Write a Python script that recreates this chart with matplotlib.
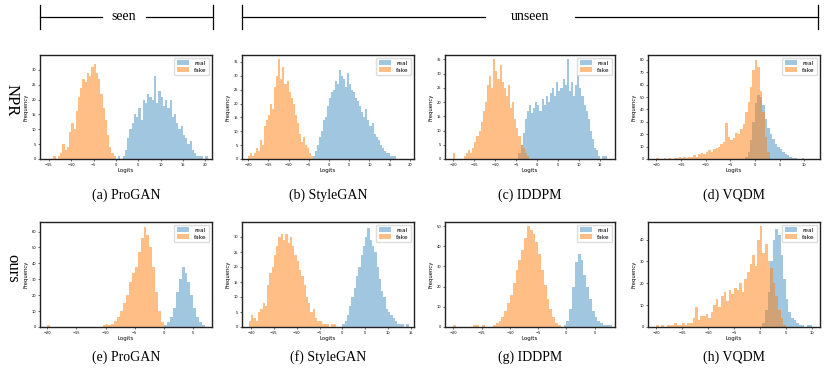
import numpy as np
import matplotlib.pyplot as plt
from matplotlib.lines import Line2D

# histogram counts, bin width 0.5 (first value = left edge)
BW = 0.5

real_a_lo, real_a = 0.5, [1, 0, 1, 3, 7, 10, 12, 15, 14, 17, 13, 20, 19, 22, 21, 20, 28, 19, 23, 21,
                          18, 20, 17, 20, 14, 15, 12, 10, 11, 8, 7, 5, 6, 3, 2, 1, 1, 1, 0, 1]
fake_a_lo, fake_a = -14.0, [1, 0, 1, 2, 5, 3, 4, 9, 12, 10, 16, 21, 24, 27, 26, 29, 28, 31, 32, 29,
                            27, 22, 17, 13, 8, 4, 2, 1]

real_b_lo, real_b = -4.0, [1, 3, 5, 8, 10, 14, 15, 19, 22, 24, 25, 28, 27, 32, 30, 29, 26, 31, 27, 25,
                           24, 22, 21, 19, 17, 15, 18, 14, 12, 13, 9, 8, 7, 5, 4, 3, 2, 2, 1, 1, 1]
fake_b_lo, fake_b = -20.0, [1, 2, 1, 2, 4, 3, 7, 5, 12, 14, 16, 20, 18, 26, 30, 36, 29, 33, 27, 28,
                            24, 22, 20, 16, 13, 9, 6, 8, 5, 4, 2, 1]

real_c_lo, real_c = -4.5, [2, 5, 9, 14, 17, 19, 16, 18, 20, 19, 17, 21, 19, 22, 20, 23, 25, 22, 27, 24,
                           25, 28, 26, 35, 24, 27, 22, 26, 35, 25, 22, 19, 17, 14, 10, 7, 4, 3, 1, 0, 1, 1]
fake_c_lo, fake_c = -20.0, [2, 0, 0, 0, 0, 1, 2, 3, 2, 4, 6, 8, 10, 13, 17, 20, 26, 29, 25, 35,
                            31, 28, 33, 27, 25, 22, 26, 18, 20, 14, 11, 8, 5, 4, 2, 1]

real_d_lo, real_d = -2.0, [2, 6, 15, 30, 45, 52, 50, 44, 32, 25, 20, 16, 12, 10, 8, 6, 4, 3, 2, 1,
                           1, 0, 0, 1]
fake_d_lo, fake_d = -20.0, [1, 0, 0, 1, 0, 1, 0, 1, 1, 2, 1, 2, 1, 2, 2, 3, 2, 4, 5, 4,
                            6, 7, 6, 8, 9, 10, 12, 14, 29, 18, 15, 17, 21, 20, 24, 28, 38, 46, 58, 72,
                            80, 74, 55, 38, 18, 6]

real_e_lo, real_e = 0.0, [1, 3, 6, 12, 22, 30, 38, 34, 28, 20, 12, 6, 3, 1]
fake_e_lo, fake_e = -20.0, [1, 0, 0, 0, 0, 0, 0, 0, 0, 0, 0, 0, 0, 0, 0, 0, 0, 0, 0, 1,
                            2, 1, 2, 4, 6, 10, 15, 20, 28, 34, 38, 47, 56, 63, 58, 50, 38, 22, 10, 3]

real_f_lo, real_f = 0.0, [1, 2, 4, 7, 10, 13, 17, 20, 24, 27, 30, 33, 29, 27, 25, 20, 16, 12, 10, 6,
                          5, 4, 3, 2, 1, 1, 1, 0, 1]
fake_f_lo, fake_f = -20.5, [2, 4, 3, 2, 5, 6, 8, 7, 14, 18, 20, 24, 27, 30, 31, 29, 31, 28, 30, 27,
                            24, 22, 19, 17, 14, 10, 8, 5, 6, 3, 2, 2, 1, 1, 1, 0, 1, 1]

real_g_lo, real_g = -0.5, [1, 3, 9, 20, 32, 36, 33, 26, 20, 14, 8, 5, 3, 2, 1, 1, 1]
fake_g_lo, fake_g = -20.0, [1, 0, 0, 0, 0, 0, 0, 1, 1, 0, 1, 0, 0, 0, 1, 2, 3, 5, 8, 12,
                            16, 22, 28, 33, 38, 44, 50, 48, 46, 42, 36, 28, 21, 14, 9, 5, 2, 1]

real_h_lo, real_h = 0.5, [2, 8, 16, 30, 40, 45, 42, 33, 22, 13, 7, 4, 3, 2, 1, 1, 0, 1, 1]
fake_h_lo, fake_h = -20.0, [1, 0, 1, 0, 1, 1, 1, 2, 1, 1, 2, 1, 2, 2, 4, 9, 3, 5, 5, 6,
                            4, 7, 10, 13, 9, 14, 16, 12, 17, 15, 18, 17, 20, 16, 22, 25, 29, 33, 28, 40,
                            46, 34, 38, 30, 27, 20, 14, 8, 4, 1]

captions = ['(a) ProGAN', '(b) StyleGAN', '(c) IDDPM', '(d) VQDM',
            '(e) ProGAN', '(f) StyleGAN', '(g) IDDPM', '(h) VQDM']

panels = [
    (real_a_lo, real_a, fake_a_lo, fake_a, (-17, 21.5), [-15, -10, -5, 0, 5, 10, 15, 20], 35, 5),
    (real_b_lo, real_b, fake_b_lo, fake_b, (-21.5, 21), [-20, -15, -10, -5, 0, 5, 10, 15, 20], 37.5, 5),
    (real_c_lo, real_c, fake_c_lo, fake_c, (-22, 18.5), [-20, -15, -10, -5, 0, 5, 10, 15], 36.5, 5),
    (real_d_lo, real_d, fake_d_lo, fake_d, (-21.7, 13.2), [-20, -15, -10, -5, 0, 5, 10], 84, 10),
    (real_e_lo, real_e, fake_e_lo, fake_e, (-21.2, 8.2), [-20, -15, -10, -5, 0, 5], 66, 10),
    (real_f_lo, real_f, fake_f_lo, fake_f, (-22, 15.7), [-20, -15, -10, -5, 0, 5, 10, 15], 35, 5),
    (real_g_lo, real_g, fake_g_lo, fake_g, (-21.5, 8.6), [-20, -15, -10, -5, 0, 5], 52, 10),
    (real_h_lo, real_h, fake_h_lo, fake_h, (-21.6, 11.6), [-20, -15, -10, -5, 0, 5, 10], 48, 10),
]

W, H = 830, 376
fig = plt.figure(figsize=(W / 100, H / 100), dpi=100)
serif = 'Liberation Serif'

# axes boxes in pixels: left, right, top, bottom
cols = [(40, 212), (242, 414), (445, 615), (648, 820)]
rows = [(55, 159), (222, 327)]

for i, (rlo, rc, flo, fc, xl, xt, ytop, ystep) in enumerate(panels):
    r, c = divmod(i, 4)
    l, rr = cols[c]
    t, b = rows[r]
    ax = fig.add_axes([l / W, 1 - b / H, (rr - l) / W, (b - t) / H])
    rx = rlo + BW * np.arange(len(rc))
    fx = flo + BW * np.arange(len(fc))
    ax.bar(rx, rc, width=BW, align='edge', color='C0', alpha=0.42, linewidth=0, label='real')
    ax.bar(fx, fc, width=BW, align='edge', color='C1', alpha=0.5, linewidth=0, label='fake')
    ax.set_xlim(*xl)
    ax.set_ylim(0, ytop)
    ax.set_xticks(xt)
    ax.set_yticks(np.arange(0, ytop, ystep))
    ax.tick_params(labelsize=2.6, length=1.2, width=0.4, pad=1.5)
    for s in ax.spines.values():
        s.set_linewidth(1.0)
        s.set_color('#222222')
    ax.set_xlabel('Logits', fontsize=4, labelpad=1)
    ax.set_ylabel('Frequency', fontsize=3.8, labelpad=2)
    ax.legend(loc='upper right', fontsize=4.2, handlelength=2.2, handleheight=0.9,
              borderpad=0.4, labelspacing=0.3, framealpha=1, edgecolor='#dddddd')
    cy = 195 if r == 0 else 357
    fig.text((l + rr) / 2 / W, 1 - cy / H, captions[i], ha='center', va='center',
             fontsize=10, family=serif)

# row labels
fig.text(12 / W, 1 - 100 / H, 'NPR', rotation=-90, ha='center', va='center', fontsize=12, family=serif)
fig.text(12 / W, 1 - 268 / H, 'ours', rotation=-90, ha='center', va='center', fontsize=12, family=serif)

# brackets on top
def bracket(x0, x1, label, xt, gap):
    y = 1 - 17 / H
    kw = dict(color='black', lw=0.9, transform=fig.transFigure)
    fig.add_artist(Line2D([x0 / W, x0 / W], [1 - 5 / H, 1 - 29 / H], **kw))
    fig.add_artist(Line2D([x1 / W, x1 / W], [1 - 5 / H, 1 - 29 / H], **kw))
    fig.add_artist(Line2D([x0 / W, (xt - gap) / W], [y, y], **kw))
    fig.add_artist(Line2D([(xt + gap) / W, x1 / W], [y, y], **kw))
    fig.text(xt / W, y, label, ha='center', va='center', fontsize=10, family=serif)

bracket(40, 213, 'seen', 124, 22)
bracket(242, 818, 'unseen', 530, 45)

fig.savefig('out.png', dpi=100)
